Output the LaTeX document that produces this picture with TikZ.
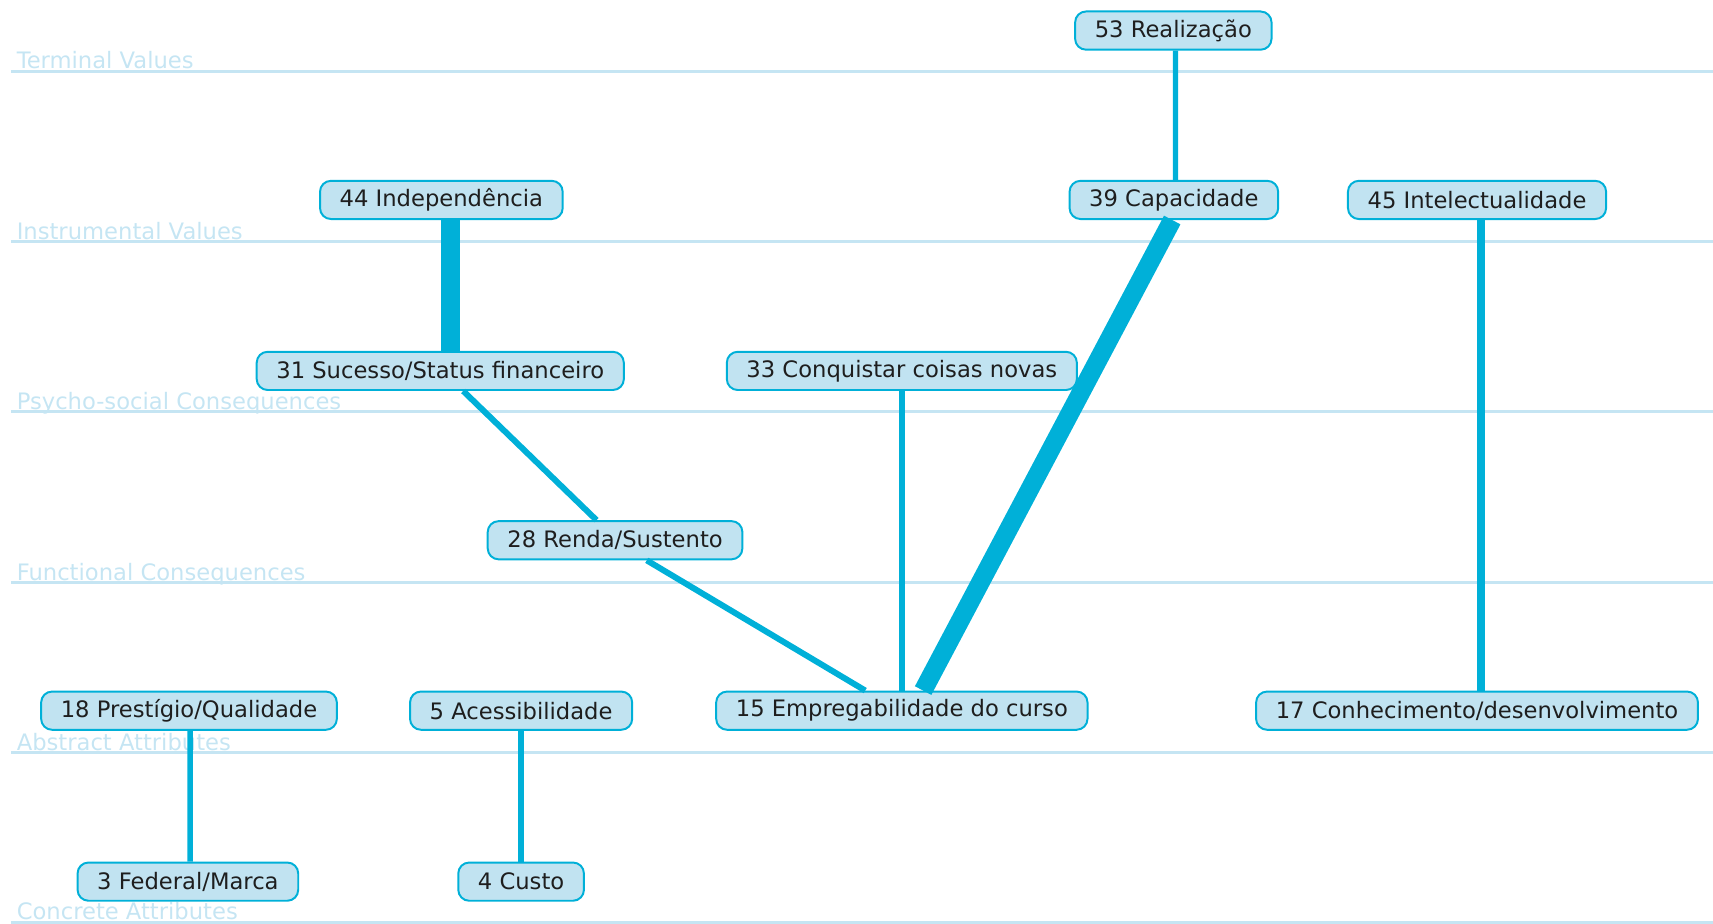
\documentclass[tikz,border=0pt]{standalone}
\usepackage{fontspec}
\setmainfont{DejaVu Sans}
\usetikzlibrary{positioning}
\definecolor{mecblue}{RGB}{0,176,216}
\definecolor{mecfill}{RGB}{193,227,241}
\definecolor{mecband}{RGB}{197,229,243}
\definecolor{mectext}{RGB}{30,30,30}

\begin{document}
\begin{tikzpicture}[x=0.02cm,y=-0.02cm,
    every node/.style={font=\fontsize{11.8}{14}\selectfont},
    ladder/.style={draw=mecblue,line width=0.036cm,fill=mecfill,rounded corners=0.2cm,
      minimum height=0.7cm,inner xsep=0.36cm,inner ysep=0pt,text=mectext},
    band/.style={draw=mecband,line width=0.055cm},
    bandlabel/.style={anchor=base west,inner sep=0pt,text=mecband},
    link/.style={draw=mecblue,line width=0.1cm}]
    \useasboundingbox (0,0) rectangle (1568,845);

    % levels of the ladder
    \draw[band] (10,65) -- (1568,65);
    \draw[band] (10,221) -- (1568,221);
    \draw[band] (10,377) -- (1568,377);
    \draw[band] (10,533) -- (1568,533);
    \draw[band] (10,689) -- (1568,689);
    \draw[band] (10,844) -- (1568,844);
    \node[bandlabel] (terminal) at (15,63) {Terminal Values};
    \node[bandlabel] (instrumental) at (15,219) {Instrumental Values};
    \node[bandlabel] (psycho) at (15,375) {Psycho-social Consequences};
    \node[bandlabel] (functional) at (15,531) {Functional Consequences};
    \node[bandlabel] (abstract) at (15,687) {Abstract Attributes};
    \node[bandlabel] (concrete) at (15,842) {Concrete Attributes};

    \node[ladder] (realizacao) at (1074,28) {53 Realização};
    \node[ladder] (capacidade) at (1074.5,183) {39 Capacidade};
    \node[ladder] (intelect) at (1352,183) {45 Intelectualidade};
    \node[ladder] (independ) at (404,183) {44 Independência};
    \node[ladder] (sucesso) at (403,339.5) {31 Sucesso/Status financeiro};
    \node[ladder] (conquistar) at (825.5,339.5) {33 Conquistar coisas novas};
    \node[ladder] (renda) at (563,494.5) {28 Renda/Sustento};
    \node[ladder] (prestigio) at (173,650.5) {18 Prestígio/Qualidade};
    \node[ladder] (acesso) at (477,650.5) {5 Acessibilidade};
    \node[ladder] (emprego) at (825.5,650.5) {15 Empregabilidade do curso};
    \node[ladder] (conhec) at (1352,650.5) {17 Conhecimento/desenvolvimento};
    \node[ladder] (federal) at (172,807) {3 Federal/Marca};
    \node[ladder] (custo) at (477,807) {4 Custo};

    \draw[link] ([xshift=0.04cm]realizacao.south) to ([xshift=0.03cm]capacidade.north);
    \draw[link,line width=0.34cm] ([xshift=-0.03cm]capacidade.south) to ([xshift=0.39cm]emprego.north);
    \draw[link,line width=0.146cm] ([xshift=0.08cm]intelect.south) to ([xshift=0.08cm]conhec.north);
    \draw[link,line width=0.34cm] ([xshift=0.17cm]independ.south) to ([xshift=0.19cm]sucesso.north);
    \draw[link,line width=0.11cm] ([xshift=0.42cm]sucesso.south) to ([xshift=-0.34cm]renda.north);
    \draw[link] (conquistar) to (emprego);
    \draw[link,line width=0.11cm] ([xshift=0.58cm]renda.south) to ([xshift=-0.67cm]emprego.north);
    \draw[link] ([xshift=0.02cm]prestigio.south) to ([xshift=0.04cm]federal.north);
    \draw[link] (acesso) to (custo);
  \end{tikzpicture}
\end{document}
